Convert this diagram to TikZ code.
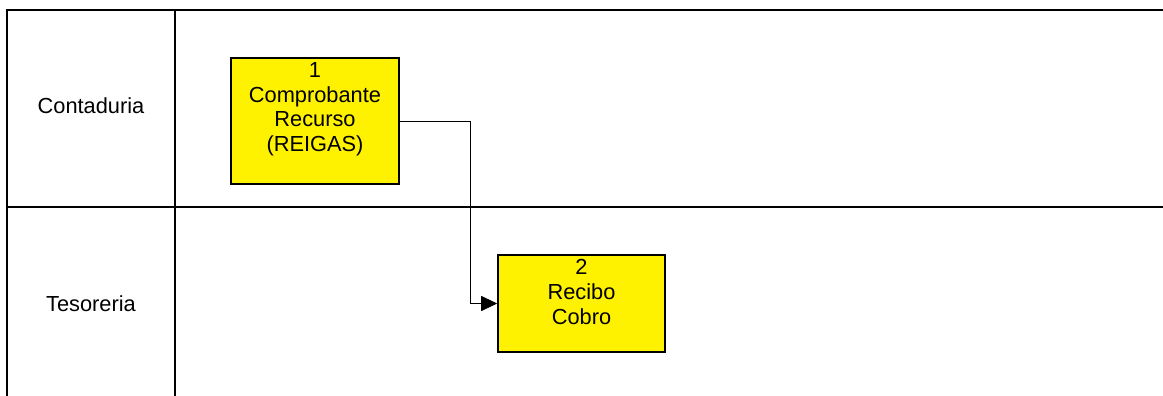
\documentclass[tikz,border=0pt]{standalone}
\usepackage{fontspec}
\setmainfont{Liberation Sans}
\usetikzlibrary{arrows.meta}
\usetikzlibrary{calc}

\begin{document}
\begin{tikzpicture}[x=1pt,y=-1pt]

  \useasboundingbox (0,0) rectangle (1163,396);

  \path
     coordinate (tl)          at (7,10)
     coordinate (tr)          at (1163,10)
     coordinate (ml)          at (7,207)
     coordinate (mr)          at (1163,207)
     coordinate (bl)          at (7,396)
     coordinate (divtop)      at (175,10)
     coordinate (divbot)      at (175,396)
     coordinate (contaduria)  at (91,106)
     coordinate (tesoreria)   at (91,304)
     coordinate (comprobante) at (315,121)
     coordinate (recibo)      at (581.5,303.5)
     coordinate (turn)        at (470,303.5)
    ;

  % Lanes
  \tikzset{lanestyle/.style = {draw, line width=1.5pt}}

  \path [lanestyle] (tr) -- (tl) -- (bl);
  \path [lanestyle] (ml) -- (mr);
  \path [lanestyle] (divtop) -- (divbot);

  \tikzset{textstyle/.style = {font=\fontsize{21.8}{24.8}\selectfont, align=center, inner sep=0pt}}

  \node [textstyle] (Contaduria) at (contaduria) {Contaduria};
  \node [textstyle] (Tesoreria) at (tesoreria) {Tesoreria};

  % Activities
  \tikzset{activitystyle/.style = {draw, line width=1.6pt, shape=rectangle, fill=yellow, inner sep=0pt}}

  \node [activitystyle, minimum width=168pt, minimum height=126pt] (Comprobante) at (comprobante) {};
  \node [activitystyle, minimum width=167pt, minimum height=97pt] (Recibo) at (recibo) {};

  \node [textstyle, anchor=north] (ComprobanteText) at ($(Comprobante.north)+(0,5)$)
    {1\\Comprobante\\Recurso\\(REIGAS)};
  \node [textstyle, anchor=north] (ReciboText) at ($(Recibo.north)+(0,5)$)
    {2\\Recibo\\Cobro};

  % Flow
  \tikzset{flowstyle/.style = {draw, line width=1pt, -{Triangle[length=16pt, width=15pt]}}}

  \path [flowstyle] (Comprobante.east) -| (turn) -- (Recibo.west);

\end{tikzpicture}
\end{document}
